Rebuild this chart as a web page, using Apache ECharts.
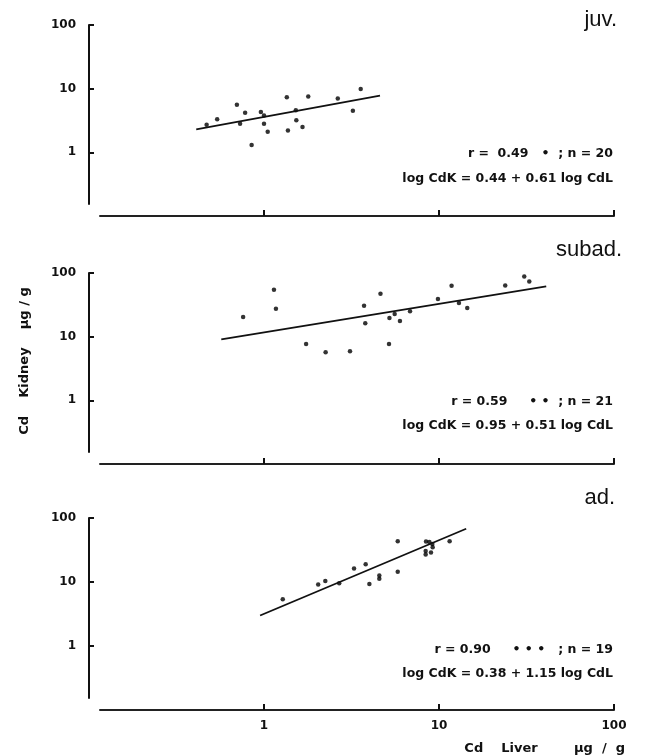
<!DOCTYPE html>
<html>
<head>
<meta charset="utf-8">
<script src="https://cdn.jsdelivr.net/npm/echarts@6/dist/echarts.min.js"></script>
<style>
  html, body { margin: 0; padding: 0; background: #fff; }
  #chart { width: 645px; height: 755px; }
</style>
</head>
<body>
<div id="chart"></div>
<script>
// 刻度
var tickValues = [1, 10, 100];

// juv. 数据 (Cd Liver, Cd Kidney)
var juvLiver  = [0.47, 0.54, 0.70, 0.78, 0.73, 0.96, 1.0, 1.0, 1.05, 0.85, 1.35, 1.52, 1.53, 1.37, 1.66, 1.79, 2.64, 3.22, 3.57];
var juvKidney = [2.7, 3.3, 5.6, 4.2, 2.8, 4.3, 3.8, 2.8, 2.1, 1.3, 7.3, 4.6, 3.2, 2.2, 2.5, 7.5, 7.0, 4.5, 9.9];
var juvFitLiver  = [0.41, 4.6];
var juvFitKidney = [2.3, 7.8];

// subad. 数据
var subLiver  = [0.76, 1.14, 1.17, 1.74, 2.25, 3.10, 3.73, 3.79, 4.63, 5.21, 5.18, 5.58, 5.98, 6.83, 9.86, 11.8, 13.0, 14.5, 23.9, 30.7, 32.8];
var subKidney = [20.3, 54.7, 27.5, 7.7, 5.7, 5.9, 30.7, 16.2, 47.3, 19.6, 7.7, 22.6, 17.6, 25.0, 38.9, 63.2, 33.7, 28.1, 63.9, 88.4, 73.8];
var subFitLiver  = [0.57, 41];
var subFitKidney = [9.1, 61.6];

// ad. 数据
var adLiver  = [1.28, 2.04, 2.24, 2.69, 3.27, 3.81, 4.0, 4.56, 4.56, 5.81, 5.81, 8.39, 8.39, 8.43, 8.81, 9.0, 9.16, 9.2, 11.5];
var adKidney = [5.4, 9.1, 10.4, 9.6, 16.2, 18.9, 9.3, 12.6, 11.2, 43.2, 14.4, 30.6, 27.0, 42.8, 42.2, 28.9, 39.3, 34.9, 43.2];
var adFitLiver  = [0.95, 14.3];
var adFitKidney = [3.0, 68];

var panelNames = ['juv.', 'subad.', 'ad.'];
var rTexts = ['r =  0.49   •  ; n = 20', 'r = 0.59     • •  ; n = 21', 'r = 0.90     • • •   ; n = 19'];
var eqTexts = ['log CdK = 0.44 + 0.61 log CdL', 'log CdK = 0.95 + 0.51 log CdL', 'log CdK = 0.38 + 1.15 log CdL'];

var font = 'Liberation Sans';
var font2 = 'DejaVu Sans';
var panels = [
  { top: 25, height: 191, liver: juvLiver, kidney: juvKidney, fitL: juvFitLiver, fitK: juvFitKidney, titleTop: 9, titleRight: 28, rY: 153.5, eqY: 178.5 },
  { top: 273, height: 191, liver: subLiver, kidney: subKidney, fitL: subFitLiver, fitK: subFitKidney, titleTop: 239, titleRight: 23, rY: 401.5, eqY: 425.5 },
  { top: 518, height: 192, liver: adLiver, kidney: adKidney, fitL: adFitLiver, fitK: adFitKidney, titleTop: 487, titleRight: 30, rY: 649.5, eqY: 673.5 }
];

function zip(a, b) {
  var out = [];
  for (var i = 0; i < a.length; i++) out.push([a[i], b[i]]);
  return out;
}

var grid = [], xAxis = [], yAxis = [], series = [], title = [], graphic = [];

panels.forEach(function (p, i) {
  var last = i === panels.length - 1;
  // 主网格 (数据)
  grid.push({ left: 89, right: 31, top: p.top, height: p.height });
  xAxis.push({
    type: 'log', logBase: 10, min: 0.1, max: 100, gridIndex: grid.length - 1,
    axisLine: { show: false },
    axisTick: { show: true, inside: true, length: 6, customValues: tickValues, lineStyle: { color: '#111', width: 2 } },
    axisLabel: { show: last, customValues: tickValues, margin: 10, color: '#111', fontFamily: font2, fontSize: 12, fontWeight: 'bold' },
    splitLine: { show: false }
  });
  yAxis.push({
    type: 'log', logBase: 10, min: 0.1, max: 100, gridIndex: grid.length - 1,
    axisLine: { show: false },
    axisTick: { show: true, inside: true, length: 5, customValues: tickValues, lineStyle: { color: '#111', width: 2 } },
    axisLabel: { show: true, customValues: tickValues, margin: 13, color: '#111', fontFamily: font2, fontSize: 12, fontWeight: 'bold' },
    splitLine: { show: false }
  });
  var gi = grid.length - 1;
  series.push({
    type: 'scatter', xAxisIndex: gi, yAxisIndex: gi,
    data: zip(p.liver, p.kidney), symbolSize: 4.5,
    itemStyle: { color: '#000' }
  });
  series.push({
    type: 'line', xAxisIndex: gi, yAxisIndex: gi,
    data: zip(p.fitL, p.fitK), showSymbol: false,
    lineStyle: { color: '#111', width: 1.8 }
  });

  // 纵轴线 (不到底)
  grid.push({ left: 89, width: 2, top: p.top, height: p.height - 12 });
  xAxis.push({ type: 'value', gridIndex: grid.length - 1, show: false });
  yAxis.push({
    type: 'value', gridIndex: grid.length - 1,
    axisLine: { show: true, lineStyle: { color: '#111', width: 2 } },
    axisTick: { show: false }, axisLabel: { show: false }, splitLine: { show: false }
  });
  // 横轴线 (从右侧开始)
  grid.push({ left: 100, right: 31, top: p.top + p.height - 1, height: 1 });
  xAxis.push({
    type: 'value', gridIndex: grid.length - 1,
    axisLine: { show: true, lineStyle: { color: '#222', width: 2 } },
    axisTick: { show: false }, axisLabel: { show: false }, splitLine: { show: false }
  });
  yAxis.push({ type: 'value', gridIndex: grid.length - 1, show: false });

  title.push({
    text: panelNames[i], right: p.titleRight, top: p.titleTop, padding: 0,
    textStyle: { fontFamily: font, fontSize: 22, fontWeight: 'normal', color: '#111' }
  });
  graphic.push({
    type: 'text', x: 613, y: p.rY,
    style: { text: rTexts[i], fill: '#111', font: 'bold 12.5px "' + font2 + '"', textAlign: 'right', textVerticalAlign: 'middle' }
  });
  graphic.push({
    type: 'text', x: 613, y: p.eqY,
    style: { text: eqTexts[i], fill: '#111', font: 'bold 12.5px "' + font2 + '"', textAlign: 'right', textVerticalAlign: 'middle' }
  });
});

// 轴名
graphic.push({
  type: 'text', x: 25, y: 361, rotation: Math.PI / 2,
  style: { text: 'Cd    Kidney    µg / g', fill: '#111', font: 'bold 13px "' + font2 + '"', textAlign: 'center', textVerticalAlign: 'middle' }
});
graphic.push({
  type: 'text', x: 625, y: 749,
  style: { text: 'Cd    Liver        µg  /  g', fill: '#111', font: 'bold 13px "' + font2 + '"', textAlign: 'right', textVerticalAlign: 'middle' }
});

var chart = echarts.init(document.getElementById('chart'));
chart.setOption({
  backgroundColor: '#fff',
  animation: false,
  title: title,
  grid: grid,
  xAxis: xAxis,
  yAxis: yAxis,
  series: series,
  graphic: graphic
});
</script>
</body>
</html>
